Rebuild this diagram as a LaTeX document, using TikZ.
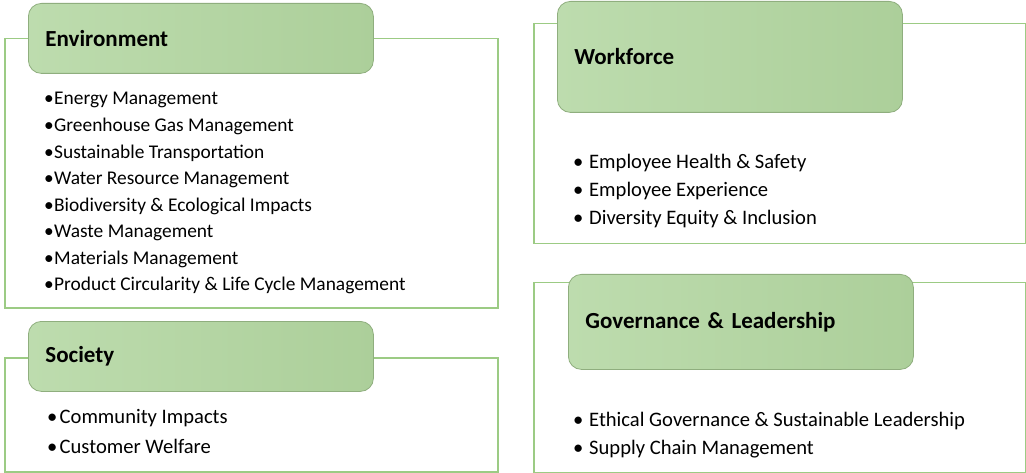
\documentclass[tikz,border=0pt]{standalone}
\usepackage{fontspec}
\setmainfont{Carlito}
\usetikzlibrary{positioning}

\definecolor{frameGreen}{HTML}{9CCB84}
\definecolor{headLeft}{HTML}{BDDCAE}
\definecolor{headRight}{HTML}{ACCF9A}
\definecolor{headEdge}{HTML}{8FAE7E}

\begin{document}
\begin{tikzpicture}[x=1pt,y=-1pt,
		frame/.style={draw=frameGreen,line width=1.5pt,rectangle,inner sep=0pt,anchor=north west},
		head/.style={draw=headEdge,line width=0.8pt,rounded corners=13pt,left color=headLeft,right color=headRight,
			anchor=north west,inner xsep=17pt,inner ysep=0pt,minimum width=345pt,text width=311pt,align=left,
			font=\fontsize{23}{26}\selectfont\bfseries},
		item/.style={anchor=west,inner sep=0pt,font=\fontsize{19.4}{23}\selectfont},
		itemb/.style={item,font=\fontsize{20.6}{24}\selectfont}]
	\useasboundingbox[fill=white] (0,0) rectangle (1026,473);
	% frames
	\node[frame,minimum width=493pt,minimum height=269pt] (envbox) at (4,38) {};
	\node[frame,minimum width=493pt,minimum height=114pt] (socbox) at (4,357) {};
	\node[frame,minimum width=492pt,minimum height=220pt] (wfbox) at (533,23) {};
	\node[frame,minimum width=492pt,minimum height=190pt] (govbox) at (533,282) {};
	% headers
	\node[head,minimum height=70pt] (env) at (28,3) {Environment};
	\node[head,minimum height=70pt] (soc) at (28,321) {Society};
	\node[head,minimum height=111pt] (wf) at (557,1) {Workforce};
	\node[head,minimum height=95pt] (gov) at (568,274) {Governance \& Leadership};
	% lists
	\foreach \t [count=\i] in {Energy Management,Greenhouse Gas Management,Sustainable Transportation,
		Water Resource Management,Biodiversity \& Ecological Impacts,Waste Management,Materials Management,
		Product Circularity \& Life Cycle Management}
		\node[item] (env\i) at (44,73.5+26.5*\i) {\makebox[10pt][l]{\textbullet}\t};
	\foreach \t [count=\i] in {Community Impacts,Customer Welfare}
		\node[itemb] (soc\i) at (47,390+28*\i) {\makebox[12.5pt][l]{\textbullet}\t};
	\foreach \t [count=\i] in {Employee Health \& Safety,Employee Experience,Diversity Equity \& Inclusion}
		\node[itemb] (wf\i) at (573,135+28*\i) {\makebox[16pt][l]{\textbullet}\t};
	\foreach \t [count=\i] in {Ethical Governance \& Sustainable Leadership,Supply Chain Management}
		\node[itemb] (gov\i) at (573,393+28*\i) {\makebox[16pt][l]{\textbullet}\t};
\end{tikzpicture}
\end{document}
